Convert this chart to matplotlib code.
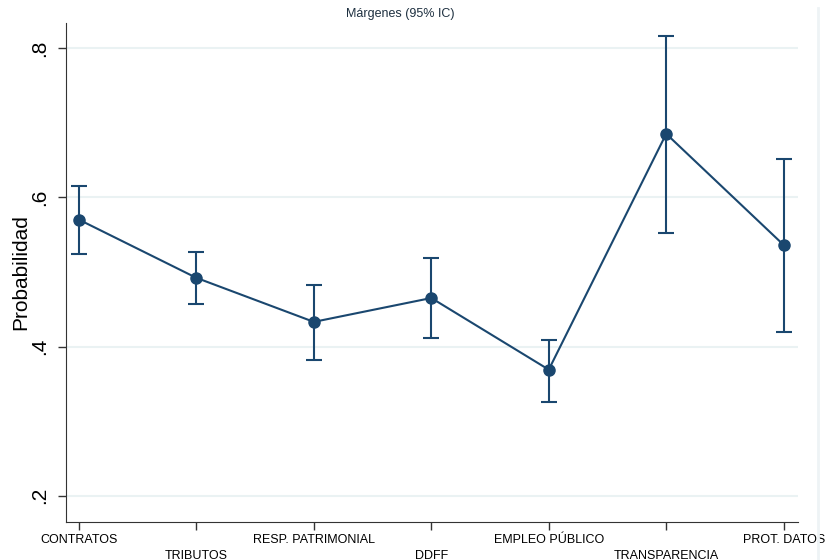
import matplotlib
matplotlib.use('Agg')
import matplotlib.pyplot as plt

categories = ['CONTRATOS', 'TRIBUTOS', 'RESP. PATRIMONIAL', 'DDFF',
              'EMPLEO PÚBLICO', 'TRANSPARENCIA', 'PROT. DATOS']
margins = [0.570, 0.492, 0.433, 0.465, 0.369, 0.685, 0.536]
ci_low = [0.524, 0.457, 0.382, 0.412, 0.326, 0.552, 0.420]
ci_high = [0.615, 0.527, 0.483, 0.518, 0.409, 0.816, 0.651]
yticks = [0.2, 0.4, 0.6, 0.8]
ytick_labels = ['.2', '.4', '.6', '.8']

navy = '#1a476f'

plt.rcParams['font.family'] = ['Liberation Sans', 'DejaVu Sans']

fig = plt.figure(figsize=(8.25, 5.6), dpi=100)
ax = fig.add_axes([0.08, 0.068, 0.887, 0.891])

x = list(range(len(categories)))
err = [[m - lo for m, lo in zip(margins, ci_low)],
       [hi - m for m, hi in zip(margins, ci_high)]]
ax.errorbar(x, margins, yerr=err, fmt='none', ecolor=navy, elinewidth=1.5,
            capsize=6, capthick=1.5, zorder=3)
ax.plot(x, margins, color=navy, lw=1.5, marker='o', ms=8, zorder=4)

ax.set_xlim(-0.11, 6.12)
ax.set_ylim(0.165, 0.8335)
ax.set_yticks(yticks)
ax.set_yticklabels(ytick_labels, rotation=90, va='center', fontsize=15)
ax.grid(axis='y', color='#eaf2f3', lw=1.5, zorder=0)
ax.set_axisbelow(True)

ax.set_xticks(x)
ax.set_xticklabels([c if i % 2 == 0 else '\n' + c for i, c in enumerate(categories)],
                   fontsize=9, linespacing=1.35)
ax.tick_params(axis='x', length=6, width=1, color='#333333', pad=3)
ax.tick_params(axis='y', length=6, width=1, color='#333333', pad=6)

for s in ['top', 'right']:
    ax.spines[s].set_visible(False)
ax.spines['left'].set_color('#333333')
ax.spines['bottom'].set_color('#333333')

ax.set_ylabel('Probabilidad', fontsize=15, labelpad=0)
fig.text(0.485, 0.985, 'Márgenes (95% IC)', ha='center', va='top', fontsize=9, color='#1e3040')

fig.add_artist(plt.Line2D([0.992, 0.992], [0.0, 0.985], color='#eef3f5', lw=2))

fig.savefig('out.png', dpi=100)
